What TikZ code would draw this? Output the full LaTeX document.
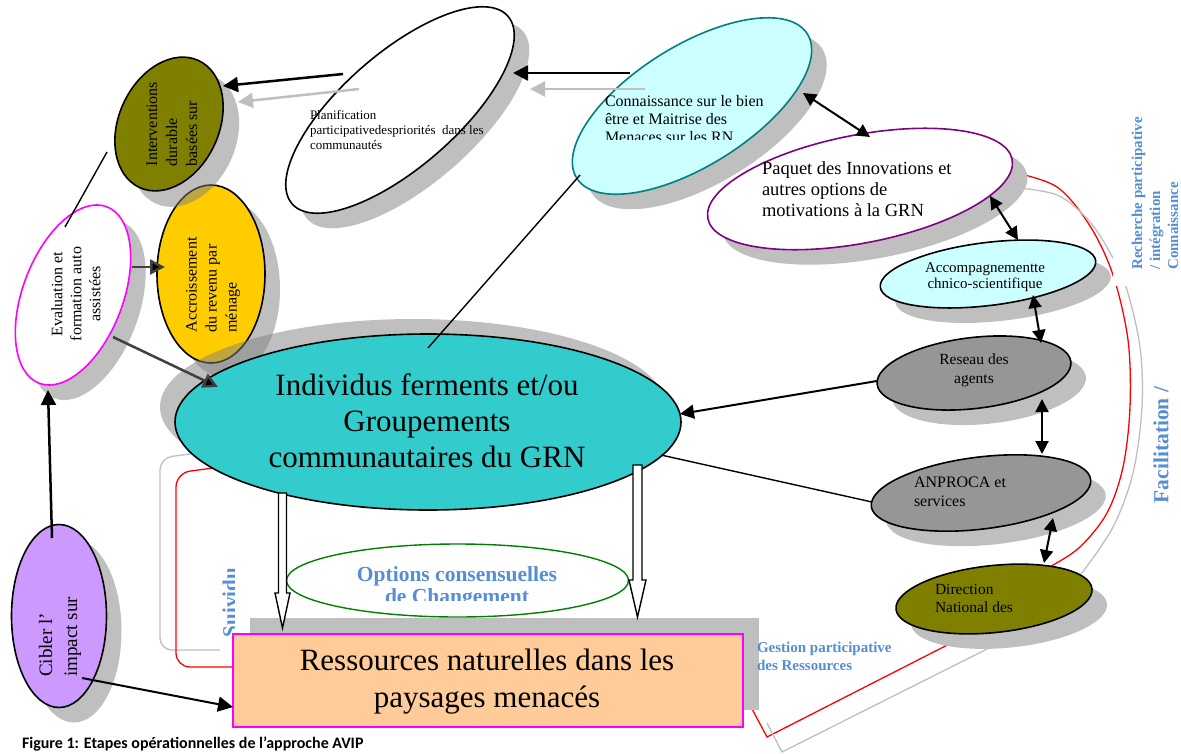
\documentclass[tikz,border=0pt]{standalone}
\usepackage{fontspec}
\setmainfont{Liberation Serif}
\newfontfamily\capfont{Carlito}
\usetikzlibrary{shapes.geometric,arrows.meta}
\definecolor{olivec}{HTML}{808000}
\definecolor{goldc}{HTML}{FFCC00}
\definecolor{lavc}{HTML}{CC99FF}
\definecolor{tealc}{HTML}{33CCCC}
\definecolor{lcyan}{HTML}{CCFFFF}
\definecolor{tealb}{HTML}{008080}
\definecolor{purp}{HTML}{800080}
\definecolor{magc}{HTML}{FF00FF}
\definecolor{grayf}{HTML}{969696}
\definecolor{peach}{HTML}{FFCC99}
\definecolor{greenb}{HTML}{008000}
\definecolor{shad}{HTML}{BFBFBF}
\definecolor{blu}{HTML}{558ED5}
\definecolor{dgray}{HTML}{404040}
\newcommand\fsz[2]{\fontsize{#1}{#2}\selectfont}
\tikzset{
  ell/.style={ellipse, inner sep=0pt, outer sep=0pt, line width=1.6pt, draw=black},
  sh/.style={ellipse, inner sep=0pt, outer sep=0pt, fill=shad},
  shtr/.style={ellipse, inner sep=0pt, outer sep=0pt, fill=gray, fill opacity=0.5},
  lbl/.style={inner sep=0pt, outer sep=0pt},
  bluelbl/.style={inner sep=0pt, outer sep=0pt, text=blu},
  bigarr/.style={line width=2.5pt, -{Triangle[length=15pt,width=15pt]}},
  grayarr/.style={draw=shad, line width=2.5pt, -{Triangle[length=15pt,width=15pt]}},
  dblarr/.style={line width=2pt, {Triangle[length=13pt,width=13pt]}-{Triangle[length=13pt,width=13pt]}},
  thinln/.style={line width=1.4pt},
  blockarr/.style={draw=black, fill=white, line width=1.4pt, line join=miter},
  redln/.style={draw=red, line width=1.3pt},
  grayln/.style={draw=shad, line width=1.3pt}
}
\begin{document}
\begin{tikzpicture}[x=1pt,y=-1pt]
\useasboundingbox[fill=white] (0,0) rectangle (1181,753);

% ---- right side feedback curves ----
\coordinate (rA) at (1012,172);
\coordinate (rB) at (751,707);
\coordinate (gA) at (1008,187);
\coordinate (gB) at (767,723);
\draw[redln] plot[smooth, tension=0.55] coordinates {(rA) (1057,187) (1090,226) (1113,275) (1128,340) (1130,407) (1123,467) (1107,513) (1080,547) (1053,565)} -- (963,637) -- (767,737) -- (rB);
\draw[grayln] plot[smooth, tension=0.55] coordinates {(gA) (1057,195) (1090,222) (1113,258) (1127,290) (1140,347) (1142,407) (1133,473) (1113,527) (1082,573)} -- (1050,605) -- (982,635) -- (987,649) -- (782,752) -- (gB);
\fill[white] (1113,100) rectangle (1181,286);

% ---- left feedback brackets ----
\draw[grayln, rounded corners=12pt] (197,453) -- (160,458) -- (160,650) -- (220,650);
\draw[redln, rounded corners=14pt] (213,468) -- (176,473) -- (176,667) -- (233,667);

% ---- top row ----
\node[sh, minimum width=286pt, minimum height=114pt, rotate=41] (plansh) at (415,125) {};
\node[ell, fill=white, minimum width=286pt, minimum height=114pt, rotate=41] (plan) at (400,110) {};
\node[sh, minimum width=272pt, minimum height=120pt, rotate=32] (connsh) at (707,121) {};
\node[ell, draw=tealb, fill=lcyan, minimum width=272pt, minimum height=120pt, rotate=32] (conn) at (692,106) {};
\node[sh, minimum width=310pt, minimum height=108pt, rotate=11] (paqsh) at (875,204) {};
\node[ell, draw=purp, fill=white, minimum width=310pt, minimum height=108pt, rotate=11] (paq) at (860,189) {};

% ---- right column ----
\node[sh, minimum width=217pt, minimum height=63pt, rotate=7] (accsh) at (1003,289) {};
\node[ell, fill=lcyan, minimum width=217pt, minimum height=63pt, rotate=7] (acc) at (988,274) {};
\node[sh, minimum width=195pt, minimum height=71pt, rotate=6.7] (ressh) at (989,388) {};
\node[ell, fill=grayf, minimum width=195pt, minimum height=71pt, rotate=6.7] (res) at (974,373) {};
\node[sh, minimum width=221pt, minimum height=72pt, rotate=7] (anpsh) at (996,508) {};
\node[ell, fill=grayf, minimum width=221pt, minimum height=72pt, rotate=7] (anp) at (981,493) {};
\node[sh, minimum width=197pt, minimum height=67pt, rotate=6] (dirsh) at (1009,614) {};
\node[ell, fill=olivec, minimum width=197pt, minimum height=67pt, rotate=6] (dir) at (994,599) {};

% ---- left column ----
\node[sh, minimum width=95pt, minimum height=183pt] (cibsh) at (74,631) {};
\node[ell, fill=lavc, minimum width=95pt, minimum height=183pt] (cib) at (59,616) {};
\node[sh, minimum width=100pt, minimum height=189pt, rotate=-21] (evash) at (88,310) {};
\node[ell, draw=magc, fill=white, minimum width=100pt, minimum height=189pt, rotate=-21] (eva) at (73,295) {};
\node[sh, minimum width=108pt, minimum height=178pt] (accrsh) at (226,289) {};
\node[ell, fill=goldc, minimum width=108pt, minimum height=178pt] (accr) at (211,274) {};
\node[shtr, minimum width=100pt, minimum height=140pt, rotate=-25] (intsh) at (185,140) {};
\node[ell, fill=olivec, minimum width=100pt, minimum height=140pt, rotate=-25] (int) at (169,124) {};

% ---- centre ----
\node[shtr, minimum width=506pt, minimum height=176pt] (indsh) at (413,407) {};
\node[ell, fill=tealc, minimum width=506pt, minimum height=176pt] (ind) at (428,422) {};
\fill[shad] (250,618) rectangle (759,710);
\node[lbl, draw=magc, fill=peach, line width=1.6pt, minimum width=510pt, minimum height=93pt] (ress) at (488,680.5) {};
\node[ellipse, inner sep=0pt, draw=greenb, line width=1.4pt, minimum width=342pt, minimum height=73pt] (opt) at (457.5,580.5) {};

% hollow block arrows
\draw[blockarr] (278.5,493) -- (286.5,493) -- (286.5,593) -- (290,593) -- (282.5,628) -- (275,593) -- (278.5,593) -- cycle;
\draw[blockarr] (633,465) -- (642,465) -- (642,580) -- (646,580) -- (637.5,617) -- (629,580) -- (633,580) -- cycle;

% ---- connectors ----
\coordinate (c1s) at (630,73);  \coordinate (c1e) at (513,73);
\coordinate (c2s) at (645,89);  \coordinate (c2e) at (530,89);
\coordinate (c3s) at (343,74);  \coordinate (c3e) at (223,86);
\coordinate (c4s) at (359,89);  \coordinate (c4e) at (238,102);
\coordinate (c5s) at (803,93);  \coordinate (c5e) at (870,137);
\coordinate (c6s) at (990,196); \coordinate (c6e) at (1018,240);
\coordinate (c7s) at (1033,295); \coordinate (c7e) at (1041,343);
\coordinate (c8s) at (1042,399); \coordinate (c8e) at (1042,454);
\coordinate (c9s) at (1053,518); \coordinate (c9e) at (1044,563);
\coordinate (c10s) at (877,381); \coordinate (c10e) at (680,414);
\coordinate (c11s) at (872,502); \coordinate (c11e) at (661,455);
\coordinate (c12s) at (580,175); \coordinate (c12e) at (428,348);
\coordinate (c13s) at (107,152); \coordinate (c13e) at (65,227);
\coordinate (c14s) at (132,267); \coordinate (c14e) at (165,267);
\coordinate (c15s) at (113,337); \coordinate (c15e) at (218,387);
\coordinate (c16s) at (52,538);  \coordinate (c16e) at (48,390);
\coordinate (c17s) at (82,678);  \coordinate (c17e) at (233,707);

\draw[bigarr] (c1s) -- (c1e);
\draw[grayarr] (c2s) -- (c2e);
\draw[bigarr] (c3s) -- (c3e);
\draw[grayarr] (c4s) -- (c4e);
\draw[dblarr] (c5s) -- (c5e);
\draw[dblarr] (c6s) -- (c6e);
\draw[dblarr] (c7s) -- (c7e);
\draw[dblarr] (c8s) -- (c8e);
\draw[dblarr] (c9s) -- (c9e);
\draw[line width=2pt, -{Triangle[length=14pt,width=14pt]}] (c10s) -- (c10e);
\draw[thinln] (c11s) -- (c11e);
\draw[thinln] (c12s) -- (c12e);
\draw[thinln] (c13s) -- (c13e);
\draw[bigarr, draw=dgray, -{Triangle[length=15pt,width=15pt,fill=black]}] (c14s) -- (c14e);
\draw[bigarr, draw=dgray, -{Triangle[length=15pt,width=15pt,fill=black]}] (c15s) -- (c15e);
\draw[bigarr] (c16s) -- (c16e);
\draw[line width=2pt, -{Triangle[length=15pt,width=15pt]}] (c17s) -- (c17e);

% ---- texts ----
\node[lbl, anchor=north west, align=left, font=\fsz{13}{15}] (tplan) at (310,110) {Planification\\participativedespriorités\ \ dans les\\communautés};
\node[lbl, rotate=90, align=left, font=\fsz{16}{20}] (tint) at (172,124) {Interventions\\durable\\basées sur};
\node[lbl, rotate=90, align=center, font=\fsz{16}{19}] (teva) at (76,294) {Evaluation et\\formation auto\\assistées};
\node[lbl, rotate=90, align=left, font=\fsz{16}{20}] (taccr) at (213,285) {Accroissement\\du revenu par\\ménage};
\node[lbl, rotate=90, align=left, font=\fsz{19}{25}] (tcib) at (60,637) {Cibler l’\\impact sur};
\begin{scope}
\clip (590,80) rectangle (810,139.5);
\node[lbl, anchor=north west, align=left, font=\fsz{16}{18}] (tconn) at (605,95.5) {Connaissance sur le bien\\être et Maitrise des\\Menaces sur les RN};
\end{scope}
\node[lbl, anchor=north west, align=left, font=\fsz{18.5}{21}] (tpaq) at (762,162) {Paquet des Innovations et\\autres options de\\motivations à la GRN};
\node[lbl, anchor=north, align=center, font=\fsz{15}{16.5}] (tacc) at (985,262.5) {Accompagnementte\\chnico-scientifique};
\node[lbl, anchor=north, align=center, font=\fsz{15.5}{19}] (tres) at (974,354) {Reseau des\\agents};
\node[lbl, anchor=north west, align=left, font=\fsz{16}{19}] (tanp) at (914,476.5) {ANPROCA et\\services};
\node[lbl, anchor=north west, align=left, font=\fsz{15.5}{18}] (tdir) at (935,584.7) {Direction\\National des};
\node[lbl, anchor=north, align=center, font=\fsz{31}{36}] (tind) at (427,373.5) {Individus ferments et/ou\\Groupements\\communautaires du GRN};
\begin{scope}
\clip (290,550) rectangle (625,600);
\node[bluelbl, anchor=north, align=center, font=\bfseries\fsz{21.5}{22.5}] (topt) at (457,566.5) {Options consensuelles\\de Changement};
\end{scope}
\node[lbl, anchor=north, align=center, font=\fsz{31}{37}] (tress) at (487,648.5) {Ressources naturelles dans les\\paysages menacés};
\begin{scope}
\clip (200,550) rectangle (234.5,645);
\node[bluelbl, rotate=90, anchor=base west, font=\bfseries\fsz{21}{24}] (tsui) at (237,637) {Suividu};
\end{scope}
\node[bluelbl, rotate=90, align=left, font=\bfseries\fsz{15}{18}] (trech) at (1155,193.5) {Recherche participative\\/ intégration\\Connaissance};
\node[bluelbl, rotate=90, font=\bfseries\fsz{21.5}{24}] (tfac) at (1161,445) {Facilitation /};
\node[bluelbl, anchor=north west, align=left, font=\bfseries\fsz{15}{18}] (tges) at (757,641.7) {Gestion participative\\des Ressources};
\node[lbl, anchor=base west, font=\capfont\bfseries\fsz{16}{18}] (tcap) at (22,748) {Figure 1: Etapes opérationnelles de l’approche AVIP};
\end{tikzpicture}
\end{document}
